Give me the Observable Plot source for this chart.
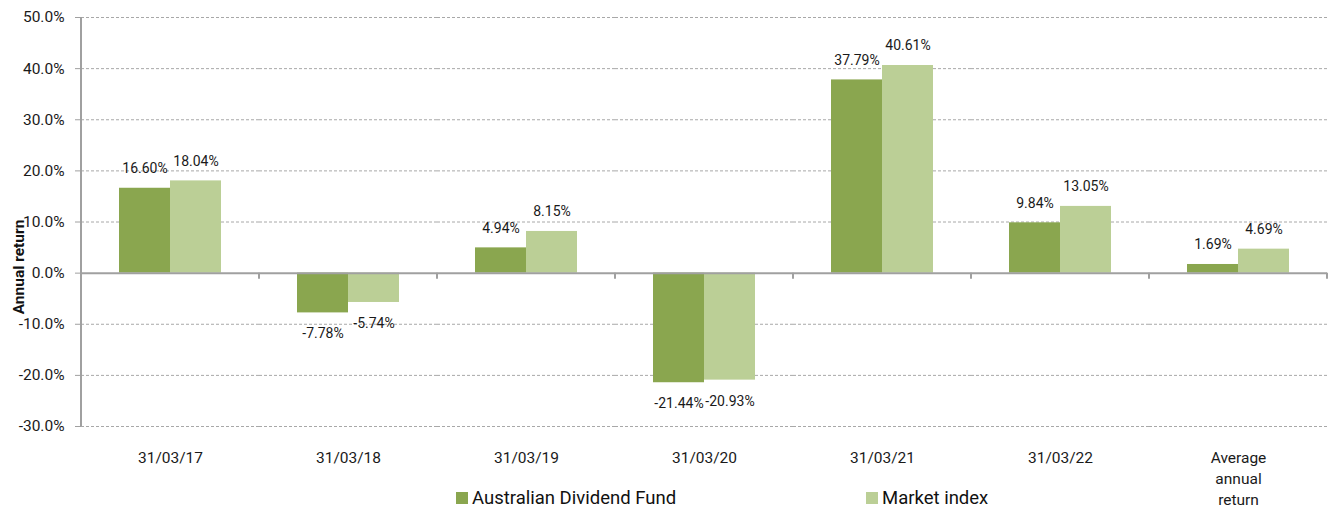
<!DOCTYPE html>
<html><head><meta charset="utf-8">
<script src="https://cdn.jsdelivr.net/npm/d3@7"></script>
<script src="https://cdn.jsdelivr.net/npm/@observablehq/plot@0.6"></script>
<style>
body{margin:0;background:#fff;font-family:Roboto,sans-serif;}
#wrap{position:relative;width:1330px;height:510px;}
#ytitle{position:absolute;left:19px;top:267px;transform:translate(-50%,-50%) rotate(-90deg);font-weight:bold;font-size:15.5px;white-space:nowrap;color:#111;}
.leg{position:absolute;top:487px;display:flex;align-items:center;font-size:18.5px;color:#111;line-height:22px;}
.sw{width:12px;height:12px;margin-right:4px;}
</style></head><body><div id="wrap"></div>
<script>
const categories = ["31/03/17","31/03/18","31/03/19","31/03/20","31/03/21","31/03/22","Average\nannual\nreturn"];
const series = ["Australian Dividend Fund","Market index"];
const fundValues = [16.60,-7.78,4.94,-21.44,37.79,9.84,1.69];
const marketValues = [18.04,-5.74,8.15,-20.93,40.61,13.05,4.69];
const yTicks = [-30,-20,-10,0,10,20,30,40,50];
const colors = ["#8aa64f","#bbcf96"];
const yTitle = "Annual return";

const data = categories.flatMap((c,i)=>[
  {cat:c, series:series[0], value:fundValues[i]},
  {cat:c, series:series[1], value:marketValues[i]}
]);
const fmt = d => d.value.toFixed(2) + "%";

const chart = Plot.plot({
  width: 1330, height: 510,
  marginLeft: 80, marginRight: 3, marginTop: 17, marginBottom: 84,
  style: {fontFamily: "Roboto, sans-serif", fontSize: "15.5px", color: "#1a1a1a", background: "transparent"},
  fx: {domain: categories, padding: 0, label: null},
  x: {domain: series, paddingInner: 0, paddingOuter: 0.745, axis: null},
  y: {domain: [-30, 50], label: null},
  color: {domain: series, range: colors},
  marks: [
    Plot.ruleY(yTicks.filter(d => d !== 0), {stroke: "#a8a8a8", strokeDasharray: "3,2"}),
    Plot.barY(data, {fx: "cat", x: "series", y: "value", fill: "series"}),
    Plot.ruleY([0], {stroke: "#a0a0a0", strokeWidth: 2}),
    Plot.text(data.filter(d => d.value >= 0), {fx: "cat", x: "series", y: "value", text: fmt, dy: -19.5, fontSize: 14, fill: "#1a1a1a"}),
    Plot.text(data.filter(d => d.value < 0), {fx: "cat", x: "series", y: "value", text: fmt, dy: 21, fontSize: 14, fill: "#1a1a1a"}),
    Plot.axisY({ticks: yTicks, tickFormat: d => d.toFixed(1) + "%", tickSize: 6, tickPadding: 11, label: null, stroke: "#a0a0a0"}),
    Plot.axisFx({anchor: "bottom", tickSize: 0, tickPadding: 22, label: null, lineHeight: 1.35})
  ]
});

// axis line and category boundary ticks, placed with the chart's own scales
const fxS = chart.scale("fx"), yS = chart.scale("y");
const svg = d3.select(chart);
const g = svg.append("g").attr("stroke", "#a0a0a0").attr("stroke-width", 2);
const x0 = fxS.apply(categories[0]);
g.append("line").attr("x1", x0).attr("x2", x0)
  .attr("y1", yS.apply(d3.max(yTicks))).attr("y2", yS.apply(d3.min(yTicks)));
const edges = categories.map(c => fxS.apply(c)).concat([fxS.apply(categories[categories.length - 1]) + fxS.bandwidth]);
const z = yS.apply(0);
edges.forEach(x => g.append("line").attr("x1", x).attr("x2", x).attr("y1", z).attr("y2", z + 6));

const wrap = document.getElementById("wrap");
wrap.appendChild(chart);
const t = document.createElement("div");
t.id = "ytitle"; t.textContent = yTitle;
wrap.appendChild(t);
const legLeft = [456, 866];
series.forEach((s, i) => {
  const d = document.createElement("div");
  d.className = "leg";
  d.style.left = legLeft[i] + "px";
  const sw = document.createElement("span");
  sw.className = "sw"; sw.style.background = colors[i];
  const tx = document.createElement("span");
  tx.textContent = s;
  d.appendChild(sw); d.appendChild(tx);
  wrap.appendChild(d);
});
</script></body></html>
